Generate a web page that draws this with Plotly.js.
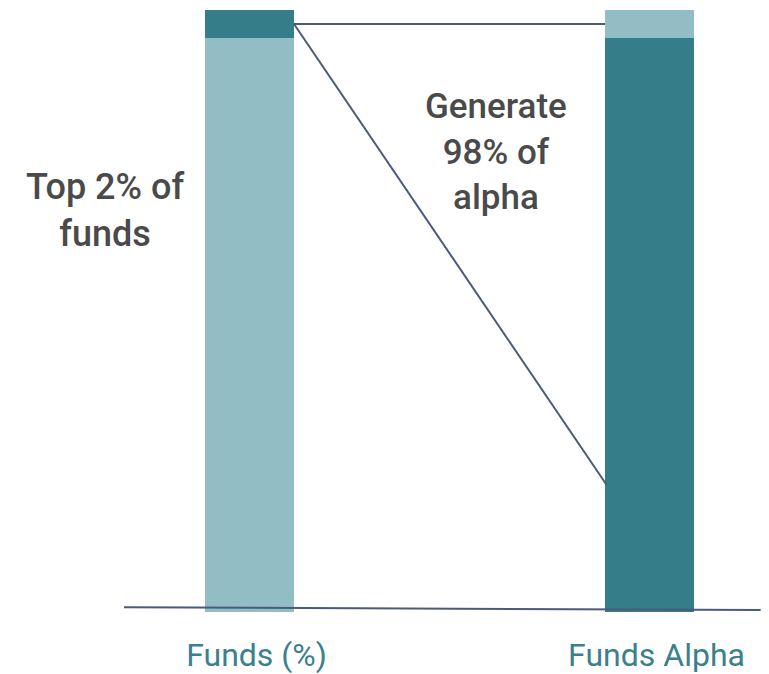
<!DOCTYPE html>
<html>
<head>
<meta charset="utf-8">
<script src="https://cdn.plot.ly/plotly-3.0.1.min.js"></script>
<style>html,body{margin:0;padding:0;background:#fff;}#chart{width:769px;height:674px;}</style>
</head>
<body>
<div id="chart"></div>
<script>
// Data
const categories = ['Funds (%)', 'Funds Alpha'];
const barIndex = [0, 1];
const lowerValues = [95.35, 95.35];   // bottom segment of each bar
const upperValues = [4.65, 4.65];     // top segment of each bar
// Connector lines (data coordinates)
const topLineX = [0.11125, 0.88875];
const topLineY = [97.67, 97.67];
const diagLineX = [0.11125, 0.893];
const diagLineY = [97.67, 21.1];
const baseLineX = [-0.31375, 1.278];
const baseLineY = [0.78, 0.33];
const leftNote = 'Top 2% of<br>funds';
const rightNote = 'Generate<br>98% of<br>alpha';

const DARK = '#367d8a';
const LIGHT = '#93bdc4';
const LINE = '#4b5a78';
const TEXT = '#4a4a4a';
const LABEL = '#3b808c';

const traces = [
  {type: 'bar', x: barIndex, y: lowerValues, width: 0.2225,
   marker: {color: [LIGHT, DARK], line: {width: 0}}, hoverinfo: 'skip'},
  {type: 'bar', x: barIndex, y: upperValues, width: 0.2225,
   marker: {color: [DARK, LIGHT], line: {width: 0}}, hoverinfo: 'skip'},
  {type: 'scatter', mode: 'lines', x: topLineX, y: topLineY,
   line: {color: LINE, width: 2}, hoverinfo: 'skip'},
  {type: 'scatter', mode: 'lines', x: diagLineX, y: diagLineY,
   line: {color: LINE, width: 2}, hoverinfo: 'skip'},
  {type: 'scatter', mode: 'lines', x: baseLineX, y: baseLineY,
   line: {color: LINE, width: 2}, hoverinfo: 'skip', cliponaxis: false}
];

const layout = {
  width: 769, height: 674,
  margin: {l: 0, r: 0, t: 10, b: 62, pad: 0},
  paper_bgcolor: '#ffffff', plot_bgcolor: '#ffffff',
  barmode: 'stack', bargap: 0,
  showlegend: false,
  font: {family: 'Roboto, "Open Sans", sans-serif'},
  xaxis: {
    range: [-0.62375, 1.29875], fixedrange: true,
    showgrid: false, zeroline: false, showline: false,
    tickmode: 'array', tickvals: barIndex, ticktext: categories,
    ticks: '', ticklabelshift: 7, ticklabelstandoff: 21,
    tickfont: {family: 'Roboto', size: 32, color: LABEL}
  },
  yaxis: {
    range: [0, 100], fixedrange: true,
    showgrid: false, zeroline: false, showline: false, showticklabels: false, ticks: ''
  },
  annotations: [
    {xref: 'paper', yref: 'paper', x: 105/769, y: 0.6665, xanchor: 'center', yanchor: 'middle',
     text: leftNote, showarrow: false, align: 'center',
     font: {family: 'Roboto', size: 36, color: TEXT, weight: 500}},
    {xref: 'paper', yref: 'paper', x: 496/769, y: 0.764, xanchor: 'center', yanchor: 'middle',
     text: rightNote, showarrow: false, align: 'center',
     font: {family: 'Roboto', size: 35, color: TEXT, weight: 500}}
  ]
};

Plotly.newPlot('chart', traces, layout, {displayModeBar: false, staticPlot: true});
</script>
</body>
</html>
